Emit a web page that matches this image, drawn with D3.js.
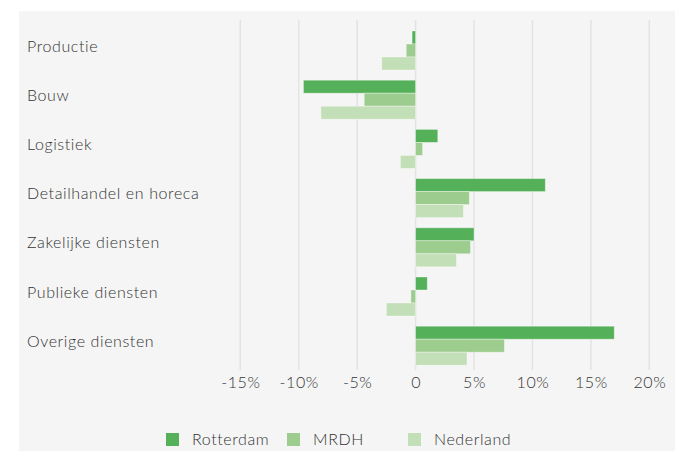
<!DOCTYPE html>
<html>
<head>
<meta charset="utf-8">
<script src="https://cdn.jsdelivr.net/npm/d3@7"></script>
<style>
  html, body { margin: 0; padding: 0; background: #ffffff; }
  svg { display: block; }
  text { font-family: "Lato", "Open Sans", sans-serif; font-weight: 300; fill: #333333; letter-spacing: 0.6px; }
</style>
</head>
<body>
<svg id="chart" width="697" height="451"></svg>
<script>
const categories = ["Productie", "Bouw", "Logistiek", "Detailhandel en horeca", "Zakelijke diensten", "Publieke diensten", "Overige diensten"];
const seriesNames = ["Rotterdam", "MRDH", "Nederland"];
const rotterdam = [-0.3, -9.6, 1.9, 11.1, 5.0, 1.0, 17.0];
const mrdh = [-0.8, -4.4, 0.6, 4.6, 4.7, -0.4, 7.6];
const nederland = [-2.9, -8.1, -1.3, 4.1, 3.5, -2.5, 4.4];
const tickValues = [-15, -10, -5, 0, 5, 10, 15, 20];
const tickLabels = ["-15%", "-10%", "-5%", "0", "5%", "10%", "15%", "20%"];
const colors = ["#55b159", "#9dcc8f", "#c3dfb7"];

const seriesValues = [rotterdam, mrdh, nederland];
const svg = d3.select("#chart");

svg.append("rect").attr("x", 19).attr("y", 11).attr("width", 656).attr("height", 440).attr("fill", "#f5f5f5");

const x = d3.scaleLinear().domain([-15, 20]).range([240.3, 649.3]);
const y = d3.scaleBand().domain(categories).range([25.9, 370.3]).paddingInner(0.207).paddingOuter(0.1035);
const ySub = d3.scaleBand().domain(seriesNames).range([0, y.bandwidth()]);

// gridlines
svg.append("g").selectAll("line").data(tickValues).join("line")
  .attr("x1", d => x(d)).attr("x2", d => x(d))
  .attr("y1", 20).attr("y2", 370)
  .attr("stroke", "#e3e3e3").attr("stroke-width", 1.5);

// bars
const rows = [];
categories.forEach((c, i) => {
  seriesNames.forEach((s, j) => rows.push({ c, s, j, v: seriesValues[j][i] }));
});
svg.append("g").selectAll("rect").data(rows).join("rect")
  .attr("x", d => x(Math.min(0, d.v)))
  .attr("width", d => Math.abs(x(d.v) - x(0)))
  .attr("y", d => y(d.c) + ySub(d.s))
  .attr("height", ySub.bandwidth())
  .attr("fill", d => colors[d.j])
  .attr("stroke", "rgba(255,255,255,0.45)").attr("stroke-width", 0.8);

// x axis labels
const xAxis = d3.axisBottom(x).tickValues(tickValues).tickSize(0).tickPadding(0)
  .tickFormat((d, i) => tickLabels[i]);
const gx = svg.append("g").attr("transform", "translate(0,377)").call(xAxis);
gx.select(".domain").remove();
gx.selectAll("text").attr("font-size", 16).attr("fill", "#333333")
  .style("font-family", '"Lato", "Open Sans", sans-serif').style("font-weight", 300);

// category labels
svg.append("g").selectAll("text").data(categories).join("text")
  .attr("x", 27)
  .attr("y", d => y(d) + y.bandwidth() / 2 + 1)
  .attr("font-size", 16)
  .text(d => d);

// legend
const legendX = [166, 287, 408];
const lg = svg.append("g").selectAll("g").data(seriesNames).join("g")
  .attr("transform", (d, i) => `translate(${legendX[i]},433)`);
lg.append("rect").attr("width", 13).attr("height", 13).attr("fill", (d, i) => colors[i]);
lg.append("text").attr("x", 26).attr("y", 12).attr("font-size", 16).text(d => d);
</script>
</body>
</html>
